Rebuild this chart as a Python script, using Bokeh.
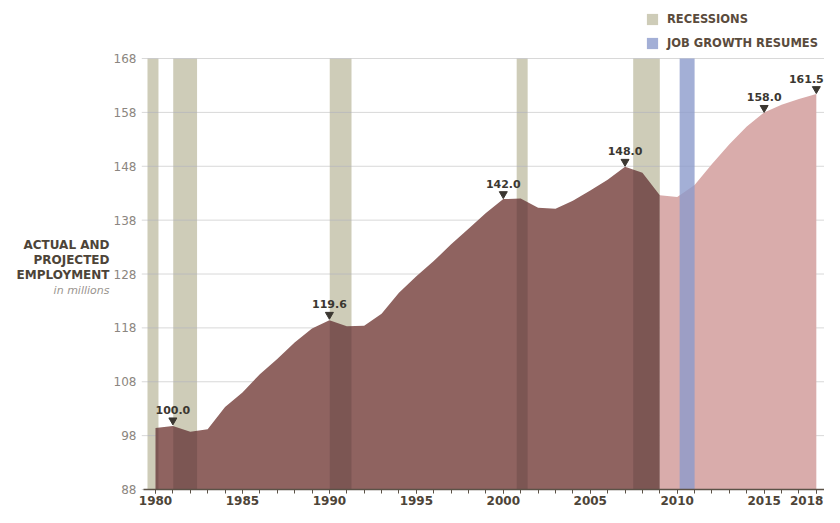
import numpy as np
from bokeh.plotting import figure
from bokeh.models import (Range1d, FixedTicker, ColumnDataSource, LabelSet, Label,
                          Legend, LegendItem)
from bokeh.core.properties import value
from bokeh.embed import file_html
from bokeh.resources import INLINE

# ---------------- data ----------------
actual_years = [1980, 1981, 1982, 1983, 1984, 1985, 1986, 1987, 1988, 1989,
                1990, 1991, 1992, 1993, 1994, 1995, 1996, 1997, 1998, 1999,
                2000, 2001, 2002, 2003, 2004, 2005, 2006, 2007, 2008, 2009]
actual_jobs = [99.4, 99.8, 98.7, 99.2, 103.3, 106.0, 109.4, 112.2, 115.3, 117.9,
               119.4, 118.3, 118.4, 120.6, 124.5, 127.6, 130.4, 133.5, 136.4, 139.3,
               141.9, 142.0, 140.3, 140.1, 141.6, 143.5, 145.5, 147.9, 146.8, 142.6]
proj_years = [2009, 2010, 2011, 2012, 2013, 2014, 2015, 2016, 2017, 2018]
proj_jobs = [142.6, 142.3, 144.5, 148.4, 152.1, 155.4, 158.0, 159.4, 160.5, 161.4]

recession_start = [1979.54, 1981.02, 1990.02, 2000.77, 2007.47]
recession_end = [1980.17, 1982.39, 1991.27, 2001.40, 2009.0]
resume_start = [2010.14]
resume_end = [2011.0]

peak_years = [1981, 1990, 2000, 2007, 2015, 2018]
peak_jobs = [100.0, 119.6, 142.0, 148.0, 158.0, 161.5]

y_ticks = [88, 98, 108, 118, 128, 138, 148, 158, 168]
x_ticks = [1980, 1985, 1990, 1995, 2000, 2005, 2010, 2015, 2018]
x_minor = list(range(1980, 2019))

# ---------------- styles / layout ----------------
DARK = "#8f6360"
PINK = "#d9acab"
BAR_BASE = "#edebd4"
BLUE = "#8c9bcc"
TXT = "#4d4438"
FONT = "DejaVu Sans"
Y_LO, Y_HI = 88, 168
X0, X1 = 1971.087, 2018.47      # whole canvas width
YB, YT = 84.659, 178.766         # whole canvas height
AX_X = 1979.31                   # where the value axis sits
TITLE_X = 1977.355

p = figure(width=824, height=507, output_backend="svg", toolbar_location=None,
           x_range=Range1d(X0, X1), y_range=Range1d(YB, YT), min_border=0)
p.min_border_left = 0
p.min_border_right = 0
p.min_border_top = 0
p.min_border_bottom = 0
p.outline_line_color = None
p.xgrid.visible = False
p.ygrid.visible = False

# recession bars (base)
rec_base = p.quad(left=recession_start, right=recession_end, bottom=Y_LO, top=Y_HI,
                  fill_color=BAR_BASE, line_color=None)
# gridlines
p.segment(x0=[AX_X - 0.1] * len(y_ticks), x1=[X1] * len(y_ticks), y0=y_ticks, y1=y_ticks,
          line_color="#d8d8d8", line_width=1)
# areas
p.varea(x=actual_years, y1=Y_LO, y2=actual_jobs, fill_color=DARK)
p.varea(x=proj_years, y1=Y_LO, y2=proj_jobs, fill_color=PINK)
# recession overlay (darkens what lies beneath)
rec_over = p.quad(left=recession_start, right=recession_end, bottom=Y_LO, top=Y_HI,
                  fill_color="black", fill_alpha=0.13, line_color=None)
# job growth resumes bar
resume = p.quad(left=resume_start, right=resume_end, bottom=Y_LO, top=Y_HI,
                fill_color=BLUE, fill_alpha=0.8, line_color=None)

# peak markers
tri_y = np.array(peak_jobs) + 0.85
p.scatter(x=peak_years, y=tri_y, marker="inverted_triangle", size=8,
          fill_color="#3b3731", line_color="#3b3731")
label_dx = [0, 0, 0, 0, 0, -10]
src = ColumnDataSource(dict(x=peak_years, y=peak_jobs,
                            text=[f"{v:.1f}" for v in peak_jobs], dx=label_dx))
p.add_layout(LabelSet(x="x", y="y", text="text", source=src, x_offset="dx", y_offset=15,
                      text_align="center", text_baseline="middle",
                      text_font=value(FONT), text_font_style="bold",
                      text_font_size="11px", text_color="#3b3731"))

# axes
xa = p.xaxis[0]
xa.fixed_location = Y_LO
xa.bounds = (AX_X, X1)
xa.ticker = FixedTicker(ticks=x_ticks, minor_ticks=x_minor)
xa.major_label_overrides = {2018: ""}
xa.axis_line_color = "#5b5247"
xa.axis_line_width = 1.5
xa.major_tick_line_color = "#5b5247"
xa.minor_tick_line_color = "#5b5247"
xa.major_tick_in = 0
xa.major_tick_out = 4
xa.minor_tick_in = 0
xa.minor_tick_out = 4
xa.major_label_standoff = 2
xa.major_label_text_font = FONT
xa.major_label_text_font_style = "bold"
xa.major_label_text_font_size = "12px"
xa.major_label_text_color = TXT

ya = p.yaxis[0]
ya.fixed_location = AX_X
ya.ticker = FixedTicker(ticks=y_ticks)
ya.axis_line_color = None
ya.major_tick_line_color = None
ya.minor_tick_line_color = None
ya.major_label_standoff = 1
ya.major_label_text_font = FONT
ya.major_label_text_font_size = "12px"
ya.major_label_text_color = "#8b8680"

p.add_layout(Label(x=2018, y=Y_LO, text="2018", text_align="right", text_baseline="top",
                   x_offset=7, y_offset=-6, text_font=FONT, text_font_style="bold",
                   text_font_size="12px", text_color=TXT))

# left title
title_lines = ["ACTUAL AND", "PROJECTED", "EMPLOYMENT"]
for i, t in enumerate(title_lines):
    p.add_layout(Label(x=TITLE_X, y=128, text=t, text_align="right", text_baseline="middle",
                       y_offset=29 - 15 * i, text_font=FONT, text_font_style="bold",
                       text_font_size="12px", text_color=TXT))
p.add_layout(Label(x=TITLE_X, y=128, text="in millions", text_align="right",
                   text_baseline="middle", y_offset=-16, text_font=FONT,
                   text_font_style="italic", text_font_size="11px", text_color="#9a958f"))

# legend
legend = Legend(items=[LegendItem(label="RECESSIONS", renderers=[rec_base, rec_over]),
                       LegendItem(label="JOB GROWTH RESUMES", renderers=[resume])],
                location=(645, 457), margin=0, padding=2, spacing=10,
                glyph_width=14, glyph_height=14, label_height=14, label_standoff=8,
                label_text_font=FONT, label_text_font_style="bold",
                label_text_font_size="11.5px", label_text_color="#5a4b3c",
                border_line_color=None, background_fill_alpha=0)
p.add_layout(legend)

open("out.html", "w").write(file_html(p, INLINE))
